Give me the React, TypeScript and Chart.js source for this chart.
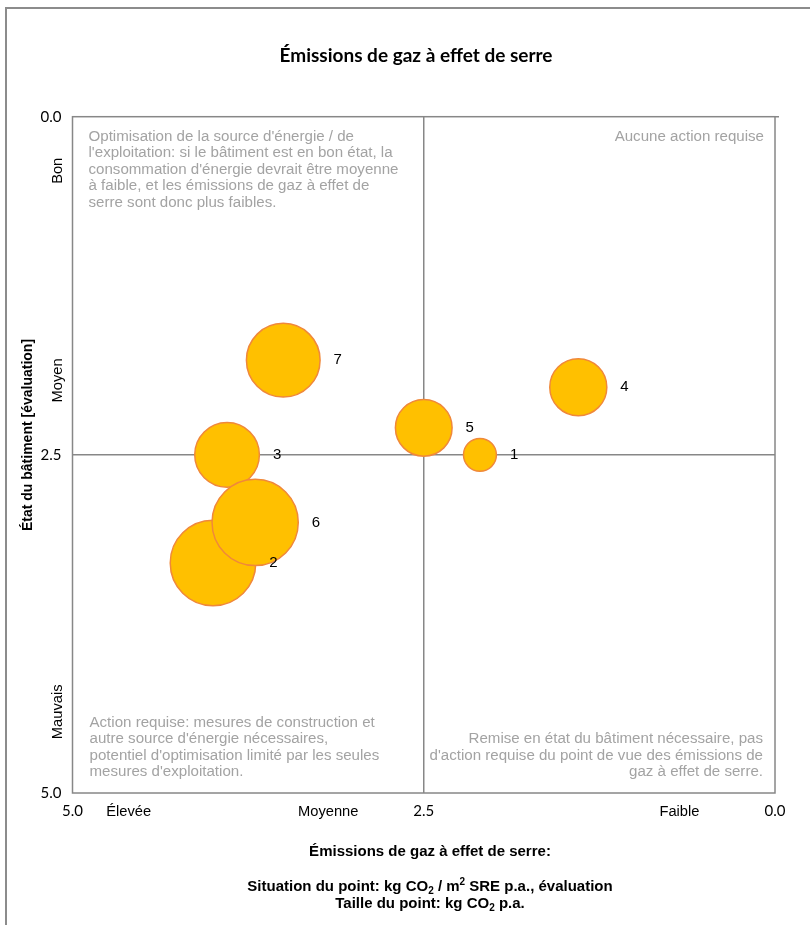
import React, { useEffect, useRef } from "react";
import { Chart, registerables } from "chart.js";

Chart.register(...registerables);

// ---- data ----
const pointLabels = ["1", "2", "3", "4", "5", "6", "7"];
// x: kg CO2 / m2 SRE p.a., évaluation (0 = faible, 5 = élevée)
const emissionsRating = [2.1, 4.0, 3.9, 1.4, 2.5, 3.7, 3.5];
// y: état du bâtiment (0 = bon, 5 = mauvais)
const conditionRating = [2.5, 3.3, 2.5, 2.0, 2.3, 3.0, 1.8];
// bubble size: kg CO2 p.a.
const emissionsTotal = [2700, 18200, 10400, 8100, 8000, 18500, 13500];

const axisTicks = [0, 2.5, 5];
const xCategories = ["Élevée", "Moyenne", "Faible"];
const xCategoryValues = [4.6, 3.18, 0.68];
const yCategories = ["Bon", "Moyen", "Mauvais"];
const yCategoryValues = [0.4, 1.95, 4.4];

const chartTitle = "Émissions de gaz à effet de serre";
const yAxisTitle = "État du bâtiment [évaluation]";
const xAxisTitle = "Émissions de gaz à effet de serre:";

const topLeftNote = [
  "Optimisation de la source d'énergie / de",
  "l'exploitation: si le bâtiment est en bon état, la",
  "consommation d'énergie devrait être moyenne",
  "à faible, et les émissions de gaz à effet de",
  "serre sont donc plus faibles.",
];
const topRightNote = ["Aucune action requise"];
const bottomLeftNote = [
  "Action requise: mesures de construction et",
  "autre source d'énergie nécessaires,",
  "potentiel d'optimisation limité par les seules",
  "mesures d'exploitation.",
];
const bottomRightNote = [
  "Remise en état du bâtiment nécessaire, pas",
  "d'action requise du point de vue des émissions de",
  "gaz à effet de serre.",
];

type Seg = { t: string; sub?: boolean; sup?: boolean };
const subtitleLine1: Seg[] = [
  { t: "Situation du point: kg CO" },
  { t: "2", sub: true },
  { t: " / m" },
  { t: "2", sup: true },
  { t: " SRE p.a., évaluation" },
];
const subtitleLine2: Seg[] = [
  { t: "Taille du point: kg CO" },
  { t: "2", sub: true },
  { t: " p.a." },
];

const ARIAL = "'Liberation Sans', Arial, sans-serif";
const CALIBRI = "Lato, 'Liberation Sans', sans-serif";

function drawRich(ctx: CanvasRenderingContext2D, segs: Seg[], cx: number, cy: number, size: number) {
  const big = `bold ${size}px ${ARIAL}`;
  const small = `bold ${Math.round(size * 0.65)}px ${ARIAL}`;
  let total = 0;
  const widths = segs.map((s) => {
    ctx.font = s.sub || s.sup ? small : big;
    const w = ctx.measureText(s.t).width;
    total += w;
    return w;
  });
  let x = cx - total / 2;
  ctx.textAlign = "left";
  ctx.textBaseline = "middle";
  segs.forEach((s, i) => {
    ctx.font = s.sub || s.sup ? small : big;
    const dy = s.sub ? size * 0.3 : s.sup ? -size * 0.3 : 0;
    ctx.fillText(s.t, x, cy + dy);
    x += widths[i];
  });
}

const quadrantPlugin = {
  id: "quadrant",
  beforeDraw(chart: any) {
    const ctx = chart.ctx as CanvasRenderingContext2D;
    ctx.save();
    ctx.fillStyle = "#ffffff";
    ctx.fillRect(0, 0, chart.width, chart.height);
    ctx.strokeStyle = "#8c8c8c";
    ctx.lineWidth = 2;
    ctx.strokeRect(6, 8, chart.width + 40, chart.height + 40);
    ctx.restore();
  },
  beforeDatasetsDraw(chart: any) {
    const ctx = chart.ctx as CanvasRenderingContext2D;
    const a = chart.chartArea;
    const xs = chart.scales.x;
    const ys = chart.scales.y;
    ctx.save();
    ctx.strokeStyle = "#878787";
    ctx.lineWidth = 1.5;
    ctx.strokeRect(a.left, a.top, a.right - a.left, a.bottom - a.top);
    const mx = xs.getPixelForValue(2.5);
    const my = ys.getPixelForValue(2.5);
    ctx.beginPath();
    ctx.moveTo(mx, a.top);
    ctx.lineTo(mx, a.bottom);
    ctx.moveTo(a.left, my);
    ctx.lineTo(a.right, my);
    // small outward tick mark at the top-right corner
    ctx.moveTo(a.right, a.top);
    ctx.lineTo(a.right + 4, a.top);
    ctx.stroke();

    // quadrant notes
    ctx.fillStyle = "#a3a3a3";
    ctx.font = `15.1px ${ARIAL}`;
    ctx.textBaseline = "middle";
    const lh = 16.5;
    ctx.textAlign = "left";
    topLeftNote.forEach((t, i) => ctx.fillText(t, a.left + 16, a.top + 20 + i * lh));
    ctx.textAlign = "right";
    topRightNote.forEach((t, i) => ctx.fillText(t, a.right - 11, a.top + 20 + i * lh));
    ctx.textAlign = "left";
    bottomLeftNote.forEach((t, i) =>
      ctx.fillText(t, a.left + 17, a.bottom - 21 - (bottomLeftNote.length - 1 - i) * lh)
    );
    ctx.textAlign = "right";
    bottomRightNote.forEach((t, i) =>
      ctx.fillText(t, a.right - 12, a.bottom - 21 - (bottomRightNote.length - 1 - i) * lh)
    );
    ctx.restore();
  },
  afterDatasetsDraw(chart: any) {
    const ctx = chart.ctx as CanvasRenderingContext2D;
    const meta = chart.getDatasetMeta(0);
    ctx.save();
    ctx.fillStyle = "#000000";
    ctx.font = `15px ${ARIAL}`;
    ctx.textAlign = "left";
    ctx.textBaseline = "middle";
    meta.data.forEach((el: any, i: number) => {
      const r = el.options.radius;
      ctx.fillText(pointLabels[i], el.x + r + 13.5, el.y);
    });
    ctx.restore();
  },
  afterDraw(chart: any) {
    const ctx = chart.ctx as CanvasRenderingContext2D;
    const a = chart.chartArea;
    const xs = chart.scales.x;
    const ys = chart.scales.y;
    ctx.save();
    ctx.fillStyle = "#000000";
    // numeric ticks
    ctx.font = `15px ${CALIBRI}`;
    ctx.textBaseline = "middle";
    ctx.textAlign = "right";
    axisTicks.forEach((v) => ctx.fillText(v.toFixed(1), a.left - 11, ys.getPixelForValue(v)));
    ctx.textAlign = "center";
    axisTicks.forEach((v) => ctx.fillText(v.toFixed(1), xs.getPixelForValue(v), a.bottom + 18));
    // category labels
    ctx.font = `14.7px ${ARIAL}`;
    xCategories.forEach((t, i) => ctx.fillText(t, xs.getPixelForValue(xCategoryValues[i]), a.bottom + 19));
    yCategories.forEach((t, i) => {
      ctx.save();
      ctx.translate(a.left - 15, ys.getPixelForValue(yCategoryValues[i]));
      ctx.rotate(-Math.PI / 2);
      ctx.fillText(t, 0, 0);
      ctx.restore();
    });
    // y axis title
    ctx.save();
    ctx.font = `bold 14px ${ARIAL}`;
    ctx.translate(28, 435);
    ctx.rotate(-Math.PI / 2);
    ctx.fillText(yAxisTitle, 0, 0);
    ctx.restore();
    // chart title
    ctx.font = `bold 19px ${CALIBRI}`;
    ctx.fillText(chartTitle, 416, 56);
    // x axis titles
    ctx.font = `bold 15px ${ARIAL}`;
    ctx.fillText(xAxisTitle, 430, 852);
    drawRich(ctx, subtitleLine1, 430, 887, 15);
    drawRich(ctx, subtitleLine2, 430, 904, 15);
    ctx.restore();
  },
};

export default function App() {
  const canvasRef = useRef<HTMLCanvasElement | null>(null);

  useEffect(() => {
    const canvas = canvasRef.current;
    if (!canvas) return;
    const data = pointLabels.map((_, i) => ({
      x: emissionsRating[i],
      y: conditionRating[i],
      r: Math.sqrt(emissionsTotal[i]) * 0.317,
    }));
    const chart = new Chart(canvas, {
      type: "bubble",
      data: {
        datasets: [
          {
            label: "Bâtiments",
            data,
            backgroundColor: "#FFC000",
            borderColor: "#F0883A",
            borderWidth: 1.5,
          },
        ],
      },
      options: {
        animation: false,
        responsive: false,
        devicePixelRatio: 1,
        layout: { autoPadding: false, padding: { left: 72.5, top: 116.7, right: 35, bottom: 132 } },
        plugins: { legend: { display: false }, tooltip: { enabled: false }, title: { display: false } },
        scales: {
          x: { type: "linear", min: 0, max: 5, reverse: true, display: false },
          y: { type: "linear", min: 0, max: 5, reverse: true, display: false },
        },
      },
      plugins: [quadrantPlugin],
    });
    return () => chart.destroy();
  }, []);

  return (
    <div style={{ position: "absolute", left: 0, top: 0, width: 810, height: 925 }}>
      <canvas ref={canvasRef} width={810} height={925} style={{ display: "block" }} />
    </div>
  );
}
